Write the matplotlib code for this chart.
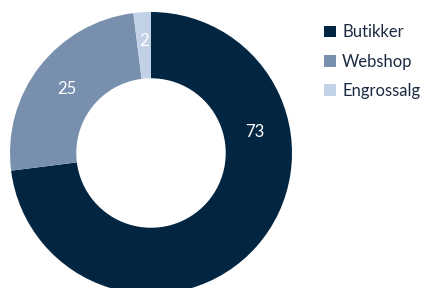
import numpy as np
import matplotlib
matplotlib.use("Agg")
import matplotlib.pyplot as plt

plt.rcParams['font.family'] = ['Lato', 'DejaVu Sans']

categories = ["Butikker", "Webshop", "Engrossalg"]
values = [73, 25, 2]
colors = ["#022541", "#7890ae", "#c2d2e6"]

fig = plt.figure(figsize=(4.21, 2.88), dpi=100)
# pie centre at (151,153) px, radius 141 px
ax = fig.add_axes([10/421, -6/288, 282/421, 282/288])
wedges, _ = ax.pie(values, colors=colors, startangle=90, counterclock=False,
                   radius=1.0, wedgeprops=dict(width=0.47, linewidth=0))
ax.set_xlim(-1, 1)
ax.set_ylim(-1, 1)
ax.set_aspect('equal')
ax.axis('off')

# data labels (the big slice's label sits off its mid-angle, as in the original)
label_r = [0.755, 0.76, 0.81]
angle_override = {0: 12.0}
for i, w in enumerate(wedges):
    ang = angle_override.get(i, (w.theta1 + w.theta2) / 2)
    x = label_r[i] * np.cos(np.radians(ang))
    y = label_r[i] * np.sin(np.radians(ang))
    ax.text(x, y, str(values[i]), color="white", fontsize=12,
            ha="center", va="center_baseline")

fig.legend(wedges, categories, loc="upper left",
           bbox_to_anchor=(316/421, 1 - 16/288), borderpad=0,
           frameon=False, fontsize=12, handlelength=0.72, handleheight=0.72,
           handletextpad=0.35, labelspacing=0.8, labelcolor="#1c2b42")

fig.savefig("out.png", dpi=100)
